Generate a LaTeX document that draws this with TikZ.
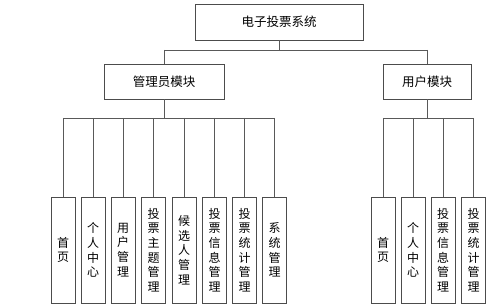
\documentclass[tikz,border=0pt]{standalone}
\usepackage{fontspec}
\setmainfont{Noto Sans CJK SC}
\begin{document}
\begin{tikzpicture}[x=1pt,y=-1pt,
  line width=0.8pt,
  box/.style={draw=black!70, fill=white, inner sep=0pt, font=\fontsize{12.5}{14}\selectfont},
  leaf/.style={draw=black!70, fill=white, inner sep=0pt, minimum width=24pt, minimum height=106pt,
     align=center, font=\fontsize{12}{14.7}\selectfont},
  conn/.style={draw=black!65, line width=0.8pt}]
\useasboundingbox[fill=white] (0,0) rectangle (499,305);
\node[box, minimum width=168pt, minimum height=36pt] (top) at (279,22) {电子投票系统};
\node[box, minimum width=120pt, minimum height=35pt] (adm) at (164,81.5) {管理员模块};
\node[box, minimum width=88pt, minimum height=35pt] (usr) at (427,81.5) {用户模块};
\coordinate (busT) at (279,50);
\coordinate (busA) at (164,118);
\coordinate (busU) at (427,118);
% admin leaves
\node[leaf] (a1) at (63,250) {首\\页};
\node[leaf] (a2) at (93,250) {个\\人\\中\\心};
\node[leaf] (a3) at (123,250) {用\\户\\管\\理};
\node[leaf] (a4) at (153.5,250) {投\\票\\主\\题\\管\\理};
\node[leaf] (a5) at (184,250) {候\\选\\人\\管\\理};
\node[leaf] (a6) at (214.5,250) {投\\票\\信\\息\\管\\理};
\node[leaf] (a7) at (244.5,250) {投\\票\\统\\计\\管\\理};
\node[leaf] (a8) at (274.5,250) {系\\统\\管\\理};
% user leaves
\node[leaf] (u1) at (383,250) {首\\页};
\node[leaf] (u2) at (413,250) {个\\人\\中\\心};
\node[leaf] (u3) at (443,250) {投\\票\\信\\息\\管\\理};
\node[leaf] (u4) at (473.5,250) {投\\票\\统\\计\\管\\理};
% connectors
\draw[conn] (top.south) -- (busT);
\draw[conn] (adm.north |- busT) -- (usr.north |- busT);
\draw[conn] (adm.north |- busT) -- (adm.north);
\draw[conn] (usr.north |- busT) -- (usr.north);
\draw[conn] (adm.south) -- (busA);
\draw[conn] (a1.north |- busA) -- (a8.north |- busA);
\foreach \n in {a1,a2,a3,a4,a5,a6,a7,a8}{\draw[conn] (\n.north |- busA) -- (\n.north);}
\draw[conn] (usr.south) -- (busU);
\draw[conn] (u1.north |- busU) -- (u4.north |- busU);
\foreach \n in {u1,u2,u3,u4}{\draw[conn] (\n.north |- busU) -- (\n.north);}
\end{tikzpicture}
\end{document}
